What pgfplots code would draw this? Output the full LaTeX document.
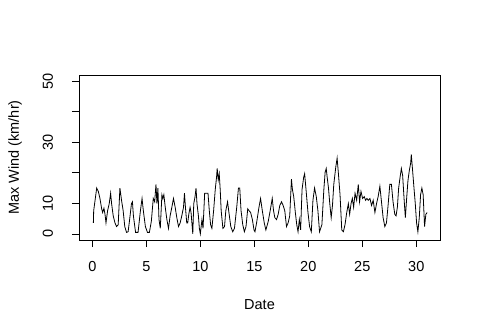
\documentclass[border=0pt]{standalone}
\usepackage{pgfplots}
\pgfplotsset{compat=1.18}
\usepackage{fontspec}
\setmainfont{Liberation Sans}
\begin{document}
\fontsize{14.5}{17}\selectfont
\begin{tikzpicture}
\begin{axis}[
  at={(0,0)}, anchor=south west,
  scale only axis, width=361pt, height=165pt,
  xmin=-1.24, xmax=32.2, ymin=-2, ymax=52,
  axis line style={line width=0.7pt},
  tick align=outside, major tick length=7pt,
  tick style={line width=0.7pt, black},
  xtick pos=lower, ytick pos=left,
  xtick={0,5,10,15,20,25,30},
  ytick={0,10,20,30,40,50},
  yticklabels={0,10,,30,,50},
  /pgf/number format/assume math mode=true,
  xticklabel style={font=\fontsize{14.5}{17}\selectfont, yshift=-9pt},
  yticklabel style={font=\fontsize{14.5}{17}\selectfont, rotate=90, anchor=south, yshift=14pt},
  xlabel={Date}, ylabel={Max Wind (km/hr)},
  xlabel style={at={(axis description cs:0.5,-0.39)}, anchor=center, font=\fontsize{14.5}{17}\selectfont},
  ylabel style={at={(axis description cs:-0.177,0.5)}, anchor=center, font=\fontsize{14.5}{17}\selectfont},
  clip=true,
]
\addplot[black, line width=0.8pt] coordinates {
(0.09,3.6)(0.12,7.6)(0.4,15.0)(0.55,13.9)(0.7,11.6)(0.86,8.2)(0.95,7.0)(1.07,8.4)(1.17,6.4)(1.26,3.6)
(1.41,7.6)(1.56,9.9)(1.69,13.3)(1.78,9.9)(1.93,5.9)(2.09,3.6)(2.24,2.4)(2.39,3.0)(2.55,15.0)(2.7,11.0)
(2.85,7.6)(3.0,2.4)(3.16,0.5)(3.31,0.7)(3.47,5.3)(3.62,9.9)(3.71,10.5)(3.8,5.9)(4.0,0.5)(4.23,0.5)
(4.45,7.6)(4.6,11.6)(4.72,7.6)(4.91,2.4)(5.1,0.5)(5.28,0.5)(5.46,4.1)(5.64,11.6)(5.77,10.5)(5.89,16.2)
(5.98,9.9)(6.07,15.0)(6.17,4.7)(6.29,1.8)(6.44,12.8)(6.53,11.6)(6.62,12.8)(6.75,8.7)(6.9,4.7)(7.05,1.8)
(7.2,5.9)(7.36,8.7)(7.51,11.6)(7.67,8.7)(7.82,5.3)(7.98,2.4)(8.13,3.6)(8.28,5.9)(8.44,8.7)(8.53,13.3)
(8.62,8.7)(8.74,3.6)(8.83,3.6)(8.93,6.4)(9.05,8.7)(9.14,7.0)(9.3,0.0)(9.39,9.9)(9.51,12.2)(9.6,15.0)
(9.69,9.9)(9.82,5.9)(9.91,1.8)(10.0,0.0)(10.15,4.7)(10.25,1.8)(10.4,13.3)(10.71,13.3)(10.83,7.6)(10.95,3.0)
(11.07,1.8)(11.23,7.6)(11.38,14.5)(11.5,18.5)(11.56,21.4)(11.66,17.7)(11.75,19.7)(11.84,14.5)(11.93,7.6)(12.09,1.8)
(12.24,2.4)(12.36,7.6)(12.52,10.5)(12.67,6.4)(12.82,2.4)(13.0,0.7)(13.16,1.8)(13.37,8.7)(13.53,15.0)(13.65,15.0)
(13.77,7.6)(13.93,3.0)(14.08,0.7)(14.23,2.4)(14.39,8.2)(14.51,7.6)(14.66,7.0)(14.82,4.7)(14.97,1.3)(15.06,0.7)
(15.21,3.6)(15.43,8.7)(15.58,11.6)(15.74,7.6)(15.92,3.6)(16.07,1.3)(16.29,4.1)(16.47,7.6)(16.66,11.6)(16.78,7.6)
(16.9,5.3)(17.06,4.7)(17.21,6.4)(17.36,9.3)(17.52,10.5)(17.67,9.3)(17.82,7.6)(17.98,2.4)(18.13,3.6)(18.28,5.9)
(18.44,17.9)(18.53,14.5)(18.65,12.2)(18.8,7.0)(18.93,3.0)(19.05,0.7)(19.17,4.7)(19.29,1.3)(19.42,14.5)(19.57,18.5)
(19.66,19.7)(19.79,14.5)(19.97,7.0)(20.12,2.4)(20.28,0.7)(20.43,11.0)(20.58,15.0)(20.74,12.2)(20.89,7.6)(21.04,0.7)
(21.26,3.0)(21.44,14.5)(21.56,20.2)(21.66,21.4)(21.75,18.5)(21.87,15.0)(21.99,9.9)(22.12,5.3)(22.24,9.3)(22.36,16.2)
(22.55,22.0)(22.67,24.8)(22.79,19.7)(22.94,12.8)(23.1,1.3)(23.25,0.7)(23.4,3.0)(23.56,7.0)(23.71,9.9)(23.83,6.4)
(23.96,9.9)(24.08,11.6)(24.2,8.7)(24.33,13.3)(24.48,11.0)(24.63,16.2)(24.75,10.5)(24.88,13.9)(25.03,11.6)(25.18,12.2)
(25.31,11.0)(25.43,11.6)(25.55,11.0)(25.71,11.6)(25.86,9.3)(26.01,11.0)(26.17,7.0)(26.32,9.9)(26.47,12.2)(26.63,15.6)
(26.78,10.5)(26.93,5.3)(27.09,2.4)(27.24,3.6)(27.39,9.3)(27.55,16.2)(27.7,16.2)(27.85,10.5)(28.01,6.4)(28.13,5.9)
(28.25,8.7)(28.37,15.0)(28.5,18.5)(28.62,21.4)(28.74,19.1)(28.87,11.6)(28.99,5.3)(29.11,11.6)(29.23,17.4)(29.36,20.8)
(29.48,23.1)(29.54,26.0)(29.66,20.8)(29.79,15.0)(29.91,9.9)(30.03,3.6)(30.15,0.7)(30.28,5.3)(30.4,12.8)(30.52,15.0)
(30.64,12.8)(30.77,2.4)(30.89,6.4)(31.01,7.0)
};
\end{axis}
\path[use as bounding box] (-79pt,-95pt) rectangle (402pt,240pt);
\end{tikzpicture}
\end{document}
